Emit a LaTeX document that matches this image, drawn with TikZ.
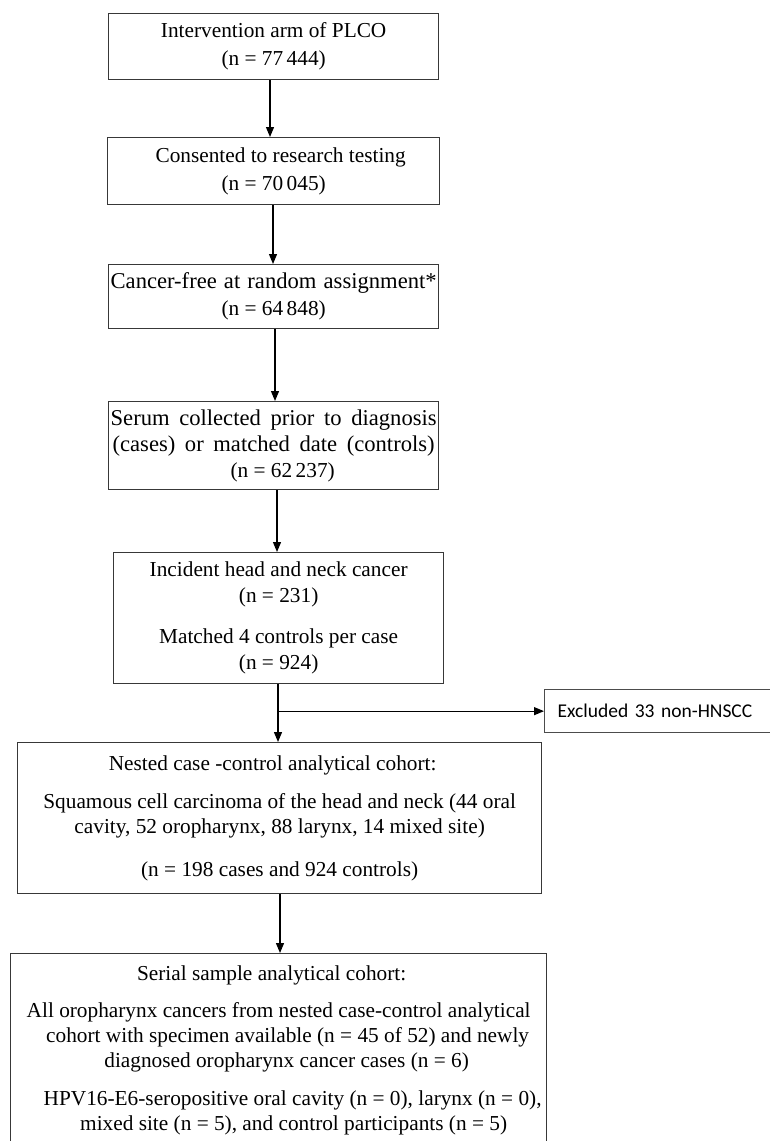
\documentclass[tikz,border=0pt]{standalone}
\usepackage{fontspec}
\setmainfont{Liberation Serif}
\newfontfamily\calibri{Carlito}
\usetikzlibrary{arrows.meta}
\newcommand\bigln{\fontsize{22.6}{27}\selectfont}
\begin{document}
\begin{tikzpicture}[x=1pt,y=-1pt,
  box/.style={draw=black!78, line width=1.3pt, align=center, inner xsep=2pt, inner ysep=0pt,
    anchor=north west, font=\fontsize{21.3}{25}\selectfont},
  exbox/.style={draw=black!70, line width=1.3pt, align=left, text width=220pt, inner xsep=13pt,
    inner ysep=0pt, anchor=north west, font=\calibri\fontsize{19.5}{23}\selectfont},
  arr/.style={draw=black, line width=1.2pt, -{Triangle[length=10pt,width=8pt]}}]
\useasboundingbox (0,0) rectangle (769,1141);

\node[box, minimum width=330, minimum height=66] (b1) at (108,13)
  {Intervention arm of PLCO\\[3pt](n = 77\,444)};
\node[box, minimum width=332, minimum height=67] (b2) at (107,137)
  {\hspace*{14pt}Consented to research testing\\[3pt](n = 70\,045)};
\node[box, minimum width=330, minimum height=64] (b3) at (108,264)
  {\makebox[326pt][s]{\bigln Cancer-free at random assignment*}\\[2pt](n = 64\,848)};
\node[box, minimum width=330, minimum height=88] (b4) at (108,401)
  {\makebox[326pt][s]{\bigln Serum collected prior to diagnosis}\\[1pt]\makebox[322pt][s]{\bigln (cases) or matched date (controls)}\\[1pt]\hspace*{18pt}(n = 62\,237)};
\node[box, minimum width=330, minimum height=131] (b5) at (113,552)
  {Incident head and neck cancer\\[1pt](n = 231)\\[16pt]Matched 4 controls per case\\[1pt](n = 924)};
\node[exbox, minimum height=43] (ex) at (544,689) {Excluded 33 non-HNSCC};
\node[box, minimum width=524, minimum height=151] (b6) at (17,742)
  {Nested case -control analytical cohort:\hspace*{14pt}\\[13pt]Squamous cell carcinoma of the head and neck (44 oral\\cavity, 52 oropharynx, 88 larynx, 14 mixed site)\\[18pt](n = 198 cases and 924 controls)};
\node[box, minimum width=536, minimum height=194] (b7) at (10,953)
  {Serial sample analytical cohort:\hspace*{14pt}\\[12pt]All oropharynx cancers from nested case-control analytical\\\hspace*{18pt}cohort with specimen available (n = 45 of 52) and newly\\\hspace*{16pt}diagnosed oropharynx cancer cases (n = 6)\\[13pt]\hspace*{28pt}HPV16-E6-seropositive oral cavity (n = 0), larynx (n = 0),\\\hspace*{30pt}mixed site (n = 5), and control participants (n = 5)};

\coordinate (x1) at (270,0);
\coordinate (x2) at (273,0);
\coordinate (x3) at (275,0);
\coordinate (x4) at (277,0);
\coordinate (x5) at (278,0);
\coordinate (x6) at (280,0);

\draw[arr] (b1.south -| x1) -- (b2.north -| x1);
\draw[arr] (b2.south -| x2) -- (b3.north -| x2);
\draw[arr] (b3.south -| x3) -- (b4.north -| x3);
\draw[arr] (b4.south -| x4) -- (b5.north -| x4);
\draw[arr] (b5.south -| x5) -- (b6.north -| x5);
\draw[arr] (ex.west -| x5) -- (ex.west);
\draw[arr] (b6.south -| x6) -- (b7.north -| x6);
\end{tikzpicture}
\end{document}
